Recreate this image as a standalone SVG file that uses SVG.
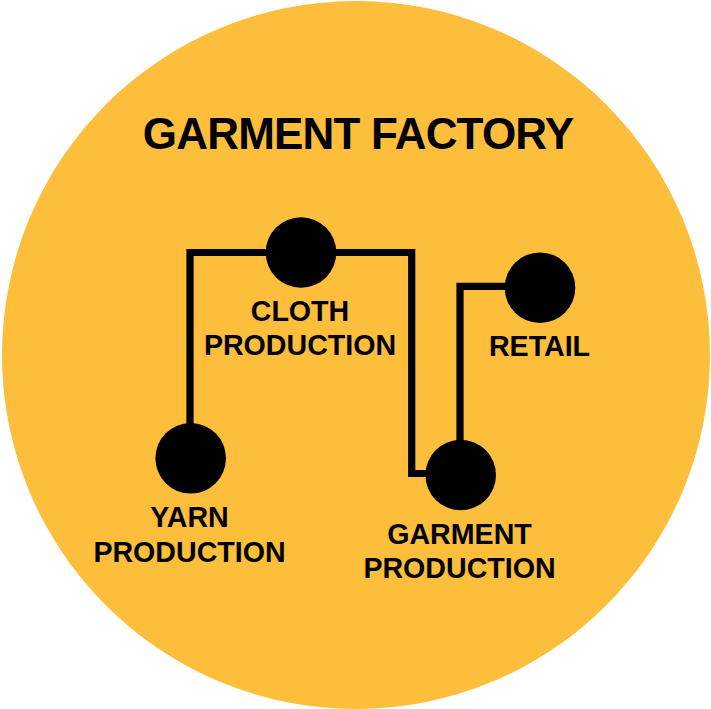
<svg xmlns="http://www.w3.org/2000/svg" width="711" height="709" viewBox="0 0 711 709">
<style>
.lbl{font-family:"Liberation Sans",Arial,sans-serif;font-weight:bold;font-size:28.6px;fill:#000;text-anchor:middle}
.title{font-family:"Liberation Sans",Arial,sans-serif;font-weight:bold;font-size:44px;fill:#000;text-anchor:middle;letter-spacing:-0.8px}
.conn{fill:none;stroke:#000;stroke-width:7.2;stroke-linejoin:miter}
.dot{fill:#000}
</style>
<rect width="711" height="709" fill="#fff"/>
<g id="background">
<ellipse cx="356" cy="355" rx="354" ry="354" fill="#FDBE3B"/>
<text class="title" x="358" y="148.5">GARMENT FACTORY</text>
</g>
<g id="connectors">
<polyline class="conn" points="190,458 190,252.5 411.7,252.5 411.7,473.5 460,473.5"/>
<polyline class="conn" points="460,475 460,286.3 540,286.3"/>
</g>
<g id="cloth">
<circle class="dot" cx="301" cy="252.5" r="35.3"/>
<text class="lbl" x="300" y="320.7">CLOTH</text>
<text class="lbl" x="300" y="355.3">PRODUCTION</text>
</g>
<g id="yarn">
<circle class="dot" cx="190.7" cy="458.3" r="35.3"/>
<text class="lbl" x="189.5" y="527.4">YARN</text>
<text class="lbl" x="189.5" y="562.4">PRODUCTION</text>
</g>
<g id="garment">
<circle class="dot" cx="460.7" cy="475" r="35.3"/>
<text class="lbl" x="459.5" y="544.2">GARMENT</text>
<text class="lbl" x="459.5" y="578.2">PRODUCTION</text>
</g>
<g id="retail">
<circle class="dot" cx="540" cy="287.7" r="35.3"/>
<text class="lbl" x="539.5" y="355.7">RETAIL</text>
</g>
</svg>
